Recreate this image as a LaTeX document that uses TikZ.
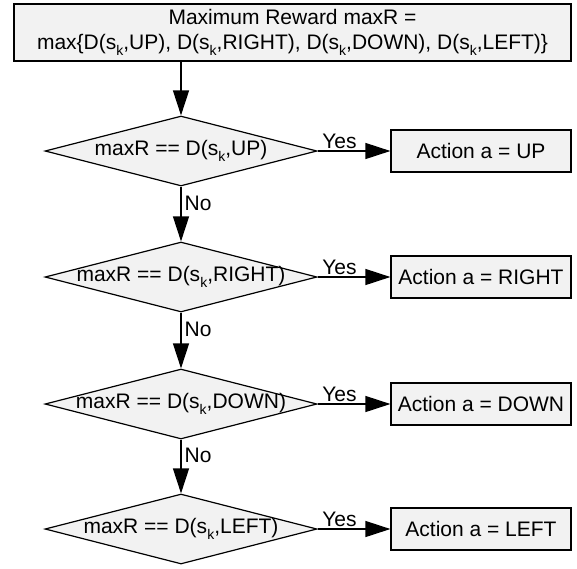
\documentclass[tikz,border=0pt]{standalone}
\usepackage{fontspec}
\setmainfont{Liberation Sans}
\usetikzlibrary{shapes.geometric, arrows.meta, positioning}
\newcommand{\sk}{s\raisebox{-0.55ex}{\fontsize{7}{7}\selectfont k}}
\begin{document}
\begin{tikzpicture}[x=0.5pt, y=-0.5pt, >={Triangle[length=12.5pt, width=8pt]},
  every node/.style={font=\fontsize{10.5}{12.5}\selectfont},
  box/.style={draw, fill=black!5, line width=0.6pt, align=center, inner sep=0pt},
  test/.style={draw, diamond, fill=black!5, line width=0.6pt, inner sep=0pt,
    minimum width=136pt, minimum height=35pt},
  flow/.style={->, line width=0.6pt}]
\useasboundingbox (0,0) rectangle (577,568);
% start
\node[box, minimum width=278.5pt, minimum height=28.5pt] (reward) at (292.5,32.5)
  {Maximum Reward maxR =\\ max\{D(\sk,UP), D(\sk,RIGHT), D(\sk,DOWN), D(\sk,LEFT)\}};
% tests
\node[test] (up)    at (181,151) {\makebox[0pt]{maxR == D(\sk,UP)}};
\node[test] (right) at (181,277) {\makebox[0pt]{maxR == D(\sk,RIGHT)}};
\node[test] (down)  at (181,404) {\makebox[0pt]{maxR == D(\sk,DOWN)}};
\node[test] (left)  at (181,529) {\makebox[0pt]{maxR == D(\sk,LEFT)}};
% actions
\node[box, minimum width=90pt, minimum height=21pt] (aup)    at (481,151) {Action a = UP};
\node[box, minimum width=90pt, minimum height=21pt] (aright) at (481,277) {Action a = RIGHT};
\node[box, minimum width=90pt, minimum height=21pt] (adown)  at (481,404) {Action a = DOWN};
\node[box, minimum width=90pt, minimum height=21pt] (aleft)  at (481,529) {Action a = LEFT};
% arrows
\draw[flow] (reward.south -| up.north) -- (up.north);
\foreach \a/\b in {up/right, right/down, down/left}
  \draw[flow] (\a.south) -- node[pos=0.3, right, inner sep=1.5pt]{No} (\b.north);
\foreach \a in {up, right, down, left}
  \draw[flow] (\a.east) -- node[pos=0.3, above, inner sep=1pt]{Yes} (a\a.west);
\end{tikzpicture}
\end{document}
